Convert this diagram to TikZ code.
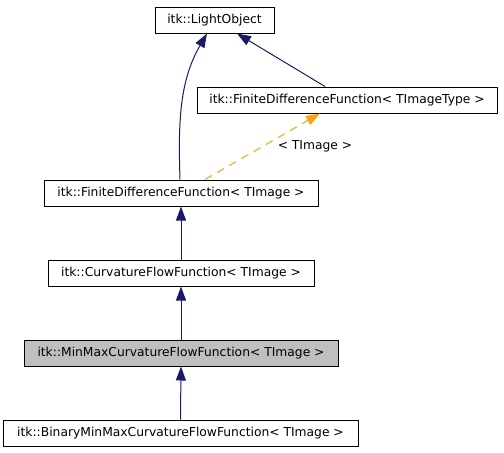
\documentclass[tikz,border=0pt]{standalone}
\usepackage{fontspec}
\setmainfont{DejaVu Sans}
\usetikzlibrary{arrows.meta}
\definecolor{edgeblue}{HTML}{191970}
\definecolor{edgeorange}{HTML}{FFA500}
\definecolor{boxgray}{HTML}{BFBFBF}
\tikzset{
  cls/.style={draw=black, line width=1pt, fill=white, inner sep=0pt, minimum height=26pt,
    font=\fontsize{12.3}{14}\selectfont, text=black},
  inh/.style={draw=edgeblue, line width=1pt, -{Triangle[length=14pt,width=10pt]}},
  tmpl/.style={draw=edgeorange, line width=1pt, dash pattern=on 8pt off 6pt, -{Triangle[length=14pt,width=10pt]}},
  lbl/.style={font=\fontsize{12.3}{14}\selectfont, inner sep=0pt}
}
\begin{document}
\begin{tikzpicture}[x=1pt,y=-1pt]
\useasboundingbox (0,0) rectangle (504,453);
\node[cls, minimum width=119pt] (light) at (214.5,20) {itk::LightObject};
\node[cls, minimum width=300pt] (fdft) at (347,100) {itk::FiniteDifferenceFunction< TImageType >};
\node[cls, minimum width=274pt] (fdf) at (181,193) {itk::FiniteDifferenceFunction< TImage >};
\node[cls, minimum width=266pt] (curv) at (181,273) {itk::CurvatureFlowFunction< TImage >};
\node[cls, minimum width=314pt, fill=boxgray] (minmax) at (181,353) {itk::MinMaxCurvatureFlowFunction< TImage >};
\node[cls, minimum width=355pt] (binary) at (180.5,433) {itk::BinaryMinMaxCurvatureFlowFunction< TImage >};
\draw[inh] ([xshift=-1pt]fdf.north) .. controls (178,120) and (180,80) .. ([xshift=-7.5pt]light.south);
\draw[inh] ([xshift=-22pt]fdft.north) -- ([xshift=22.5pt]light.south);
\draw[tmpl] ([xshift=24pt]fdf.north) -- ([xshift=-27pt]fdft.south);
\node[lbl] (tl) at (315,146) {< TImage >};
\draw[inh] (curv.north) -- (fdf.south);
\draw[inh] (minmax.north) -- (curv.south);
\draw[inh] (binary.north) -- (minmax.south);
\end{tikzpicture}
\end{document}
